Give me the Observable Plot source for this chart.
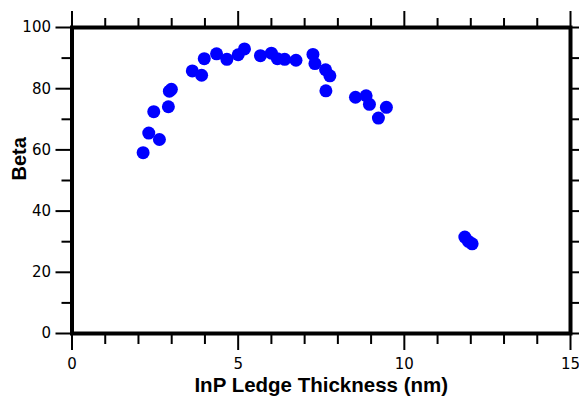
<!DOCTYPE html>
<html><head><meta charset="utf-8">
<script src="https://cdn.jsdelivr.net/npm/d3@7"></script>
<script src="https://cdn.jsdelivr.net/npm/@observablehq/plot@0.6"></script>
<style>body{margin:0;background:#fff}</style>
</head><body><div id="chart"></div>
<script>
const thickness = [2.14, 2.31, 2.46, 2.63, 2.90, 2.93, 2.99, 3.62, 3.90, 3.98, 4.35, 4.66, 5.00, 5.19, 5.67, 6.00, 6.18, 6.40, 6.74, 7.25, 7.31, 7.63, 7.76, 7.64, 8.53, 8.85, 8.95, 9.22, 9.46, 11.82, 11.93, 12.04];
const beta = [59.1, 65.5, 72.5, 63.4, 74.1, 79.2, 79.8, 85.8, 84.4, 89.8, 91.4, 89.6, 91.1, 93.0, 90.8, 91.6, 89.8, 89.6, 89.3, 91.2, 88.2, 86.2, 84.2, 79.3, 77.2, 77.7, 74.9, 70.4, 73.9, 31.5, 30.1, 29.3];
const xMajor = [0, 5, 10, 15];
const xMinor = [1, 2, 3, 4, 6, 7, 8, 9, 11, 12, 13, 14];
const yMajor = [0, 20, 40, 60, 80, 100];
const yMinor = [10, 30, 50, 70, 90];
const xTitle = "InP Ledge Thickness (nm)";
const yTitle = "Beta";

const data = thickness.map((x, i) => ({x, y: beta[i]}));
const tickFont = "DejaVu Sans";
const titleFont = "Liberation Sans, Arial, sans-serif";

const chart = Plot.plot({
  width: 579, height: 397,
  marginLeft: 71.5, marginRight: 9, marginTop: 27, marginBottom: 64,
  x: {domain: [0, 15], label: null},
  y: {domain: [0, 100], label: null},
  style: {fontFamily: tickFont, fontSize: "15px", color: "black", background: "white"},
  marks: [
    Plot.axisX(xMinor, {anchor: "bottom", tickSize: 11, strokeWidth: 2, fill: "none"}),
    Plot.axisX(xMajor, {anchor: "bottom", tickSize: 17, strokeWidth: 2, tickPadding: 8, label: null}),
    Plot.axisX(xMinor, {anchor: "top", tickSize: 10, strokeWidth: 2, fill: "none"}),
    Plot.axisX(xMajor, {anchor: "top", tickSize: 17, strokeWidth: 2, fill: "none"}),
    Plot.axisY(yMinor, {anchor: "left", tickSize: 10, strokeWidth: 2, fill: "none"}),
    Plot.axisY(yMajor, {anchor: "left", tickSize: 16, strokeWidth: 2, tickPadding: 5, label: null}),
    Plot.axisY(yMinor, {anchor: "right", tickSize: 10, strokeWidth: 2, fill: "none"}),
    Plot.axisY(yMajor, {anchor: "right", tickSize: 16, strokeWidth: 2, fill: "none"}),
    Plot.dot(data, {x: "x", y: "y", r: 6.5, fill: "#0000ff"}),
    Plot.frame({strokeWidth: 4, stroke: "black"}),
    Plot.text([xTitle], {frameAnchor: "bottom", dy: 52, lineAnchor: "middle", fontFamily: titleFont, fontWeight: "bold", fontSize: 20.5, fill: "black"}),
    Plot.text([yTitle], {frameAnchor: "left", dx: -52.5, dy: 0, rotate: -90, lineAnchor: "middle", fontFamily: titleFont, fontWeight: "bold", fontSize: 20, fill: "black"})
  ]
});
document.getElementById("chart").appendChild(chart);
</script>
</body></html>
